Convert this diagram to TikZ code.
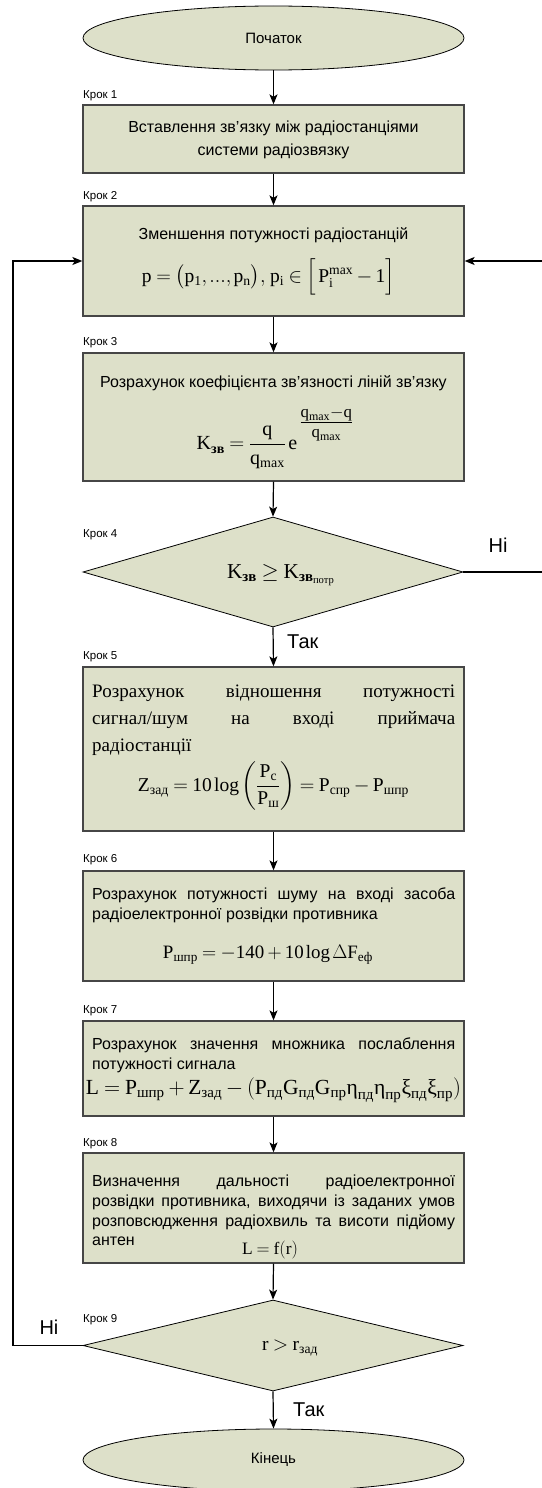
\documentclass[tikz,border=0pt]{standalone}
\usepackage{amsmath}
\usepackage{graphicx}
\usepackage{fontspec}
\setmainfont{Liberation Serif}
\setsansfont{Liberation Sans}
\usetikzlibrary{arrows.meta,shapes.geometric}
\definecolor{boxfill}{RGB}{221,224,201}
\definecolor{boxline}{RGB}{70,70,70}
\newcommand{\tx}[1]{\text{#1}}
\newcommand{\mr}[1]{\mathrm{#1}}
\newcommand{\lgg}{\mathop{\mathrm{log}}\nolimits}
\newcommand{\tightmath}{\thickmuskip=4mu plus 2mu\medmuskip=3mu plus 1mu\thinmuskip=2mu}
\tikzset{
  stepbox/.style={draw=boxline, fill=boxfill, line width=1.3pt, minimum width=381pt, inner sep=0pt},
  term/.style={ellipse, draw=black, fill=boxfill, line width=0.8pt, minimum width=381pt, inner sep=0pt, font=\sffamily\fontsize{15}{18}\selectfont},
  decision/.style={diamond, aspect=3.5, draw=black, fill=boxfill, line width=0.8pt, minimum width=380pt, inner sep=0pt},
  txt/.style={font=\sffamily\fontsize{16}{20}\selectfont, inner sep=0pt},
  ltxt/.style={txt, anchor=west},
  rtxt/.style={font=\rmfamily\fontsize{19}{27}\selectfont, inner sep=0pt, anchor=west},
  krok/.style={font=\sffamily\fontsize{11.5}{13}\selectfont, anchor=west, inner sep=0pt},
  yn/.style={font=\sffamily\fontsize{20}{24}\selectfont, inner sep=0pt},
  frm/.style={font=\rmfamily\fontsize{20}{24}\selectfont\tightmath, inner sep=0pt},
  arr/.style={draw=black, line width=1.2pt, -{Stealth[length=10pt,width=8pt,inset=2.5pt]}}
}
\begin{document}
\begin{tikzpicture}[x=1pt,y=-1pt]
\useasboundingbox (0,0) rectangle (541,1488);
% nodes
\node[term, minimum height=64pt] (start) at (273.5,38) {Початок};
\node[stepbox, minimum height=68pt] (b1) at (273.5,139) {};
\node[stepbox, minimum height=110pt] (b2) at (273.5,261) {};
\node[stepbox, minimum height=128pt] (b3) at (273.5,417) {};
\node[decision, minimum height=110pt] (d1) at (273,572) {};
\node[stepbox, minimum height=164pt] (b5) at (273.5,749) {};
\node[stepbox, minimum height=110pt] (b6) at (273.5,926) {};
\node[stepbox, minimum height=95pt] (b7) at (273.5,1068.5) {};
\node[stepbox, minimum height=110pt] (b8) at (273.5,1208) {};
\node[decision, minimum height=91pt] (d2) at (273,1345.5) {};
\node[term, minimum height=62pt] (end) at (273.5,1460) {Кінець};

% step labels
\node[krok] (k1) at (83,96) {Крок 1};
\node[krok] (k2) at (83,197) {Крок 2};
\node[krok] (k3) at (83,343) {Крок 3};
\node[krok] (k4) at (83,535) {Крок 4};
\node[krok] (k5) at (83,657) {Крок 5};
\node[krok] (k6) at (83,860) {Крок 6};
\node[krok] (k7) at (83,1011) {Крок 7};
\node[krok] (k8) at (83,1144) {Крок 8};
\node[krok] (k9) at (83,1320) {Крок 9};

% box 1
\node[txt] (t1a) at (273.5,128) {Вставлення зв’язку між радіостанціями};
\node[txt] (t1b) at (273.5,151) {системи радіозвязку};
% box 2
\node[txt] (t2a) at (273.5,235) {Зменшення потужності радіостанцій};
\node[frm] (f2) at (268.5,277) {\resizebox{253pt}{!}{$\mr{p}=\bigl(\mr{p}_{\mr{1}},\mr{...},\mr{p}_{\mr{n}}\bigr),\,\mr{p}_{\mr{i}}\in\Bigl[\,\mr{P}_{\mr{i}}^{\mr{max}}-\mr{1}\Bigr]$}};
% box 3
\node[txt] (t3a) at (273.5,383) {Розрахунок коефіцієнта зв’язності ліній зв’язку};
\node[frm] (f3) at (275,438) {$\displaystyle\mr{K}_{\tx{\bfseries зв}}=\frac{\mr{q}}{\mr{q}_{\mr{max}}}\,\mr{e}\,\raisebox{21pt}{\fontsize{24}{28}\selectfont$\frac{\mr{q}_{\mr{max}}-\mr{q}}{\mr{q}_{\mr{max}}}$}$};
% diamond 1
\node[frm] (f4) at (281,575) {\resizebox{108pt}{!}{$\mr{K}_{\tx{\bfseries зв}}\ge\mr{K}_{\tx{\bfseries зв}_{\tx{потр}}}$}};
% box 5
\node[rtxt] (t5a) at (92,693) {\makebox[363pt][s]{Розрахунок відношення потужності}};
\node[rtxt] (t5b) at (92,720) {\makebox[363pt][s]{сигнал/шум на вході приймача}};
\node[rtxt] (t5c) at (92,747) {радіостанції};
\node[frm] (f5) at (273.5,786) {\resizebox{271pt}{!}{$\displaystyle\mr{Z}_{\tx{зад}}=\mr{10}\lgg\left(\frac{\mr{P}_{\tx{с}}}{\mr{P}_{\tx{ш}}}\right)=\mr{P}_{\tx{спр}}-\mr{P}_{\tx{шпр}}$}};
% box 6
\node[ltxt] (t6a) at (92,895) {\makebox[363pt][s]{Розрахунок потужності шуму на вході засоба}};
\node[ltxt] (t6b) at (92,915) {радіоелектронної розвідки противника};
\node[frm] (f6) at (268,955) {\resizebox{210pt}{!}{$\mr{P}_{\tx{шпр}}=-\mr{140}+\mr{10}\lgg\Delta\mr{F}_{\tx{еф}}$}};
% box 7
\node[ltxt] (t7a) at (92,1045) {\makebox[363pt][s]{Розрахунок значення множника послаблення}};
\node[ltxt] (t7b) at (92,1065) {потужності сигнала};
\node[frm] (f7) at (273.5,1090) {\resizebox{375pt}{!}{$\mr{L}=\mr{P}_{\tx{шпр}}+\mr{Z}_{\tx{зад}}-(\mr{P}_{\tx{пд}}\mr{G}_{\tx{пд}}\mr{G}_{\tx{пр}}\tx{η}_{\tx{пд}}\tx{η}_{\tx{пр}}\tx{ξ}_{\tx{пд}}\tx{ξ}_{\tx{пр}})$}};
% box 8
\node[ltxt] (t8a) at (92,1182) {\makebox[363pt][s]{Визначення дальності радіоелектронної}};
\node[ltxt] (t8b) at (92,1202) {\makebox[363pt][s]{розвідки противника, виходячи із заданих умов}};
\node[ltxt] (t8c) at (92,1222) {\makebox[363pt][s]{розповсюдження радіохвиль та висоти підйому}};
\node[ltxt] (t8d) at (92,1241) {антен};
\node[frm] (f8) at (270,1250) {\resizebox{56pt}{!}{$\mr{L}=\mr{f}(\mr{r})$}};
% diamond 2
\node[frm] (f9) at (290,1348) {\resizebox{56pt}{!}{$\mr{r}>\mr{r}_{\tx{зад}}$}};

% yes / no labels
\node[yn, anchor=west] (yes1) at (287,642) {Так};
\node[yn, anchor=west] (yes2) at (293,1410) {Так};
\node[yn] (no1) at (498,545) {Ні};
\node[yn] (no2) at (49,1327) {Ні};

% helper coordinates
\coordinate (lx) at (13,1345.5);
\coordinate (ra) at (548,572);
\coordinate (rb) at (548,261);

% connectors
\draw[arr] (start.south) -- (b1.north);
\draw[arr] (b1.south) -- (b2.north);
\draw[arr] (b2.south) -- (b3.north);
\draw[arr] (b3.south) -- (d1.north);
\draw[arr] (d1.south) -- (b5.north);
\draw[arr] (b5.south) -- (b6.north);
\draw[arr] (b6.south) -- (b7.north);
\draw[arr] (b7.south) -- (b8.north);
\draw[arr] (b8.south) -- (d2.north);
\draw[arr] (d2.south) -- (end.north);
\draw[arr] (d2.west) -- (lx) |- (b2.west);
\draw[arr] (d1.east) -- (ra) -- (rb) -- (b2.east);
\end{tikzpicture}
\end{document}
